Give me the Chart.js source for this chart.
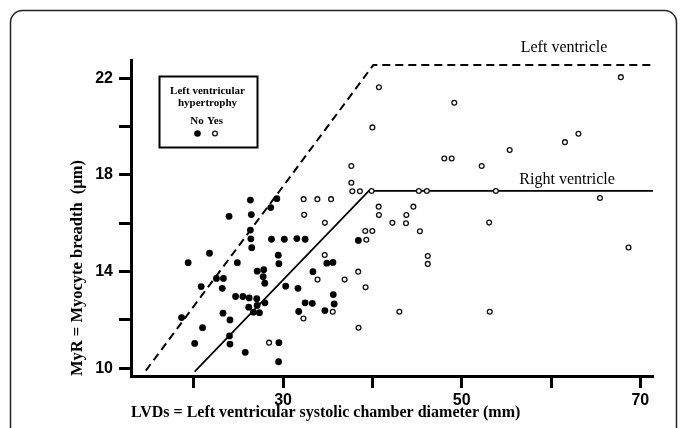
<!DOCTYPE html>
<html><head><meta charset="utf-8">
<script src="https://cdn.jsdelivr.net/npm/chart.js@4.4.0/dist/chart.umd.min.js"></script>
<style>html,body{margin:0;padding:0;background:#fff;}#wrap{width:683px;height:428px;}</style>
</head><body><div id="wrap"><canvas id="c" width="683" height="428"></canvas></div>
<script>
// LVH = No (filled dots)
const noX = [19.37, 18.63, 20.1, 20.83, 20.98, 21.76, 22.54, 23.32, 23.19, 23.27, 23.95, 24.05, 24.0, 24.05, 24.88, 24.68, 25.5, 25.76, 26.2, 26.15, 26.34, 26.44, 26.34, 26.39, 26.49, 26.68, 27.05, 27.09, 27.35, 27.1, 27.83, 27.77, 27.95, 27.96, 28.62, 28.7, 29.3, 29.46, 29.53, 29.53, 29.5, 30.14, 30.29, 31.54, 31.67, 31.75, 32.47, 32.47, 33.27, 33.34, 34.68, 34.9, 35.58, 35.62, 35.72, 38.43];
const noY = [14.37, 12.10, 11.03, 13.38, 11.68, 14.76, 13.72, 13.72, 13.31, 12.28, 16.29, 12.0, 11.34, 11.0, 14.37, 12.97, 12.97, 10.66, 12.91, 12.53, 16.96, 16.36, 15.72, 15.36, 14.99, 12.32, 12.88, 12.6, 12.3, 14.02, 14.08, 13.79, 13.52, 12.71, 16.65, 15.34, 17.02, 14.68, 14.33, 11.06, 10.27, 15.34, 13.4, 15.37, 13.31, 12.35, 15.34, 12.71, 12.69, 14.0, 12.39, 14.35, 14.38, 13.05, 12.66, 15.29];
// LVH = Yes (open circles)
const yesX = [28.43, 32.3, 33.84, 35.37, 32.36, 34.68, 34.66, 33.86, 32.28, 35.56, 36.89, 37.64, 37.64, 37.75, 38.6, 39.91, 38.41, 38.45, 39.2, 39.99, 39.32, 39.24, 40.0, 40.73, 40.7, 40.73, 42.24, 43.02, 43.8, 43.76, 44.59, 45.2, 46.1, 45.32, 46.2, 46.2, 48.05, 48.88, 49.17, 52.24, 53.07, 53.14, 53.82, 55.37, 61.56, 63.07, 65.48, 67.82, 68.68];
const yesY = [11.06, 17.0, 17.0, 17.0, 16.35, 16.02, 14.69, 13.67, 12.06, 12.34, 13.67, 18.37, 17.68, 17.33, 17.33, 17.34, 14.0, 11.68, 15.68, 15.68, 15.32, 13.35, 19.97, 21.63, 16.69, 16.34, 16.02, 12.34, 16.34, 16.0, 16.69, 17.34, 17.34, 15.67, 14.65, 14.32, 18.68, 18.68, 20.99, 18.37, 16.03, 12.34, 17.34, 19.03, 19.36, 19.71, 17.05, 22.05, 15.0];
// Fitted lines
const lvX = [14.63, 40.1, 71.42];
const lvY = [9.9, 22.55, 22.55];
const rvX = [20.1, 39.6, 71.42];
const rvY = [9.86, 17.34, 17.34];
// Ticks
const xTicks = [20, 30, 40, 50, 60, 70];
const xLabels = ['', '30', '', '50', '', '70'];
const yTicks = [10, 12, 14, 16, 18, 20, 22];
const yLabels = ['10', '', '14', '', '18', '', '22'];
const lineNames = ['Left ventricle', 'Right ventricle'];
const legendTitle = ['Left ventricular', 'hypertrophy'];
const groupNames = ['No', 'Yes'];

const pts = (xs, ys) => xs.map((x, i) => ({x: x, y: ys[i]}));

const extras = {
  id: 'extras',
  beforeDraw(chart) {
    const ctx = chart.ctx;
    ctx.save();
    ctx.strokeStyle = '#222';
    ctx.lineWidth = 1.5;
    ctx.beginPath();
    ctx.roundRect(10.5, 10.5, 666, 460, 12);
    ctx.stroke();
    ctx.restore();
  },
  afterDraw(chart) {
    const ctx = chart.ctx;
    const xs = chart.scales.x, ys = chart.scales.y;
    ctx.save();
    ctx.fillStyle = '#000';
    ctx.textAlign = 'center';
    ctx.textBaseline = 'middle';
    ctx.font = '16px "Liberation Serif"';
    ctx.fillText(lineNames[0], xs.getPixelForValue(61.46), ys.getPixelForValue(23.28));
    ctx.fillText(lineNames[1], xs.getPixelForValue(61.8), ys.getPixelForValue(17.8));
    // legend box
    const a = chart.chartArea;
    const bx = a.left + 28.5, by = a.top + 16.5, bw = 98, bh = 71;
    ctx.fillStyle = '#fff';
    ctx.fillRect(bx, by, bw, bh);
    ctx.strokeStyle = '#000';
    ctx.lineWidth = 2;
    ctx.strokeRect(bx, by, bw, bh);
    ctx.fillStyle = '#000';
    ctx.font = 'bold 11px "Liberation Serif"';
    const cx = bx + 48;
    ctx.fillText(legendTitle[0], cx, by + 15);
    ctx.fillText(legendTitle[1], cx, by + 27);
    ctx.fillText(groupNames[0], bx + 37.5, by + 45);
    ctx.fillText(groupNames[1], bx + 55.5, by + 45);
    ctx.beginPath();
    ctx.arc(bx + 38, by + 57, 3.3, 0, Math.PI * 2);
    ctx.fill();
    ctx.beginPath();
    ctx.arc(bx + 55.5, by + 57, 2.4, 0, Math.PI * 2);
    ctx.lineWidth = 1.3;
    ctx.strokeStyle = '#111';
    ctx.stroke();
    ctx.restore();
  }
};

new Chart(document.getElementById('c'), {
  type: 'scatter',
  data: {
    datasets: [
      {label: 'Yes', data: pts(yesX, yesY), pointRadius: 2.4, pointBorderWidth: 1.3, borderColor: '#111', backgroundColor: '#fff', order: 0},
      {label: 'No', data: pts(noX, noY), pointRadius: 3.4, pointBorderWidth: 0, borderColor: '#000', backgroundColor: '#000', order: 1},
      {label: 'Left ventricle', data: pts(lvX, lvY), showLine: true, pointRadius: 0, borderColor: '#000', borderWidth: 2, borderDash: [8, 5], fill: false, order: 3},
      {label: 'Right ventricle', data: pts(rvX, rvY), showLine: true, pointRadius: 0, borderColor: '#000', borderWidth: 1.7, fill: false, order: 4}
    ]
  },
  options: {
    responsive: false,
    animation: false,
    devicePixelRatio: 1,
    layout: {padding: {left: 0, right: 30, top: 60, bottom: 0}},
    plugins: {legend: {display: false}, tooltip: {enabled: false}},
    scales: {
      x: {
        type: 'linear', min: 12.97, max: 71.42,
        afterBuildTicks: s => { s.ticks = xTicks.map(v => ({value: v})); },
        afterFit: s => { s.height = 52; },
        ticks: {autoSkip: false, maxRotation: 0, padding: 3, color: '#000',
          font: {family: '"Liberation Sans", Arial', size: 16, weight: 'bold'},
          callback: v => xLabels[xTicks.indexOf(v)] ?? ''},
        grid: {display: true, drawOnChartArea: false, drawTicks: true, tickLength: 12, tickWidth: 3, tickColor: '#000'},
        border: {display: true, color: '#000', width: 3},
        title: {display: true, text: 'LVDs = Left ventricular systolic chamber diameter (mm)', align: 'start', color: '#000',
          font: {family: '"Liberation Serif", "Times New Roman"', size: 16, weight: 'bold'}, padding: {top: 0, bottom: 6}}
      },
      y: {
        type: 'linear', min: 9.68, max: 22.76,
        afterBuildTicks: s => { s.ticks = yTicks.map(v => ({value: v})); },
        afterFit: s => { s.width = 131; },
        ticks: {autoSkip: false, padding: 6, color: '#000',
          font: {family: '"Liberation Sans", Arial', size: 16, weight: 'bold'},
          callback: v => yLabels[yTicks.indexOf(v)] ?? ''},
        grid: {display: true, drawOnChartArea: false, drawTicks: true, tickLength: 12, tickWidth: 3, tickColor: '#000'},
        border: {display: true, color: '#000', width: 3},
        title: {display: true, text: 'MyR = Myocyte breadth  (μm)', align: 'start', color: '#000',
          font: {family: '"Liberation Serif", "Times New Roman"', size: 16.5, weight: 'bold'}, padding: {top: 68, bottom: 0}}
      }
    }
  },
  plugins: [extras]
});
</script>
</body></html>
